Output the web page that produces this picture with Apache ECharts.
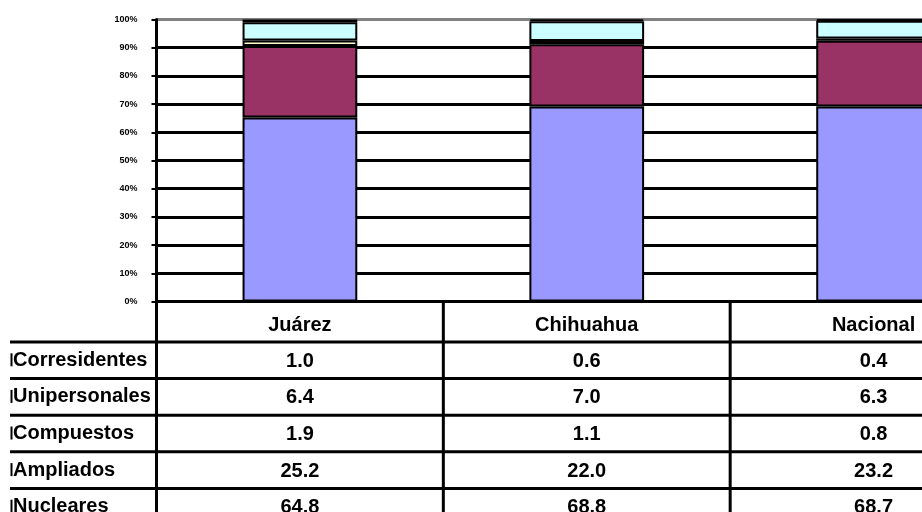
<!DOCTYPE html>
<html><head><meta charset="utf-8">
<script src="https://cdn.jsdelivr.net/npm/echarts@6/dist/echarts.min.js"></script>
<style>html,body{margin:0;padding:0;background:#fff}#c{width:922px;height:512px}</style>
</head><body><div id="c"></div>
<script>
// ---- data ----
const categories = ['Juárez', 'Chihuahua', 'Nacional'];
const nucleares = [64.8, 68.8, 68.7];
const ampliados = [25.2, 22.0, 23.2];
const compuestos = [1.9, 1.1, 0.8];
const unipersonales = [6.4, 7.0, 6.3];
const corresidentes = [1.0, 0.6, 0.4];
const yTickLabels = ['0%', '10%', '20%', '30%', '40%', '50%', '60%', '70%', '80%', '90%', '100%'];
const tableRowNames = ['Corresidentes', 'Unipersonales', 'Compuestos', 'Ampliados', 'Nucleares'];
const tableRowValues = [corresidentes, unipersonales, compuestos, ampliados, nucleares];

// ---- chart ----
const FONT = '"Liberation Sans", Arial, sans-serif';
const stackSeries = [
  { name: 'Nucleares', data: nucleares, color: '#9999FF' },
  { name: 'Ampliados', data: ampliados, color: '#993366' },
  { name: 'Compuestos', data: compuestos, color: '#FFFFCC' },
  { name: 'Unipersonales', data: unipersonales, color: '#CCFFFF' },
  { name: 'Corresidentes', data: corresidentes, color: '#2a002a' }
];
const totals = categories.map((c, i) => stackSeries.reduce((s, ser) => s + ser.data[i], 0));

const gridTop = 19.5, gridBottomY = 301.5, gridLeft = 156.5, gridWidth = 860.5;
const splitColors = yTickLabels.map((l, i) => i === yTickLabels.length - 1 ? '#808080' : '#000000');

const chart = echarts.init(document.getElementById('c'), null, { renderer: 'canvas' });
chart.setOption({
  animation: false,
  backgroundColor: '#ffffff',
  grid: { left: gridLeft, width: gridWidth, top: gridTop, height: gridBottomY - gridTop,
          containLabel: false, outerBoundsMode: 'none' },
  xAxis: {
    type: 'category', data: categories,
    axisLine: { show: true, lineStyle: { color: '#000', width: 3 } },
    axisTick: { show: false }, axisLabel: { show: false }, splitLine: { show: false }
  },
  yAxis: {
    type: 'value', min: 0, max: 100, interval: 10,
    axisLine: { show: true, lineStyle: { color: '#000', width: 3 } },
    axisTick: { show: true, length: 5, lineStyle: { color: '#000', width: 2 } },
    axisLabel: {
      formatter: v => yTickLabels[Math.round(v / 10)], margin: 19,
      fontSize: 9, fontWeight: 'bold', color: '#000', fontFamily: FONT
    },
    splitLine: { show: true, lineStyle: { color: splitColors, width: 3 } }
  },
  series: stackSeries.map(s => ({
    name: s.name, type: 'bar', stack: 'total', barWidth: '40%',
    data: s.data.map((v, i) => v / totals[i] * 100),
    itemStyle: { color: s.color, borderColor: '#000', borderWidth: 2 }
  }))
});

// ---- data table below the plot ----
const centers = categories.map(c => chart.convertToPixel({ xAxisIndex: 0 }, c));
const band = centers[1] - centers[0];
const headerBottom = 342, rowH = 36.6;
const g = [];
const line = (x1, y1, x2, y2) => g.push({ type: 'line', z: 10, shape: { x1, y1, x2, y2 }, style: { stroke: '#000', lineWidth: 3 } });
const text = (x, y, t, align) => g.push({ type: 'text', z: 11, x, y, style: {
  text: t, fill: '#000', font: 'bold 20px ' + FONT, align, verticalAlign: 'middle' } });

for (let r = 0; r <= tableRowNames.length; r++) {
  const y = headerBottom + r * rowH;
  line(10, y, 922, y);
}
const bounds = [centers[0] - band / 2].concat(centers.map(c => c + band / 2));
bounds.forEach(x => line(x, gridBottomY, x, 512));
categories.forEach((c, i) => text(centers[i], 325, c, 'center'));
tableRowNames.forEach((name, r) => {
  const yc = headerBottom + r * rowH + rowH / 2;
  g.push({ type: 'rect', z: 11, shape: { x: 10.5, y: yc - 7, width: 2, height: 13 }, style: { fill: '#000' } });
  text(13, yc, name, 'left');
  tableRowValues[r].forEach((v, i) => text(centers[i], yc + 1, v.toFixed(1), 'center'));
});
chart.setOption({ graphic: g });
</script>
</body></html>
